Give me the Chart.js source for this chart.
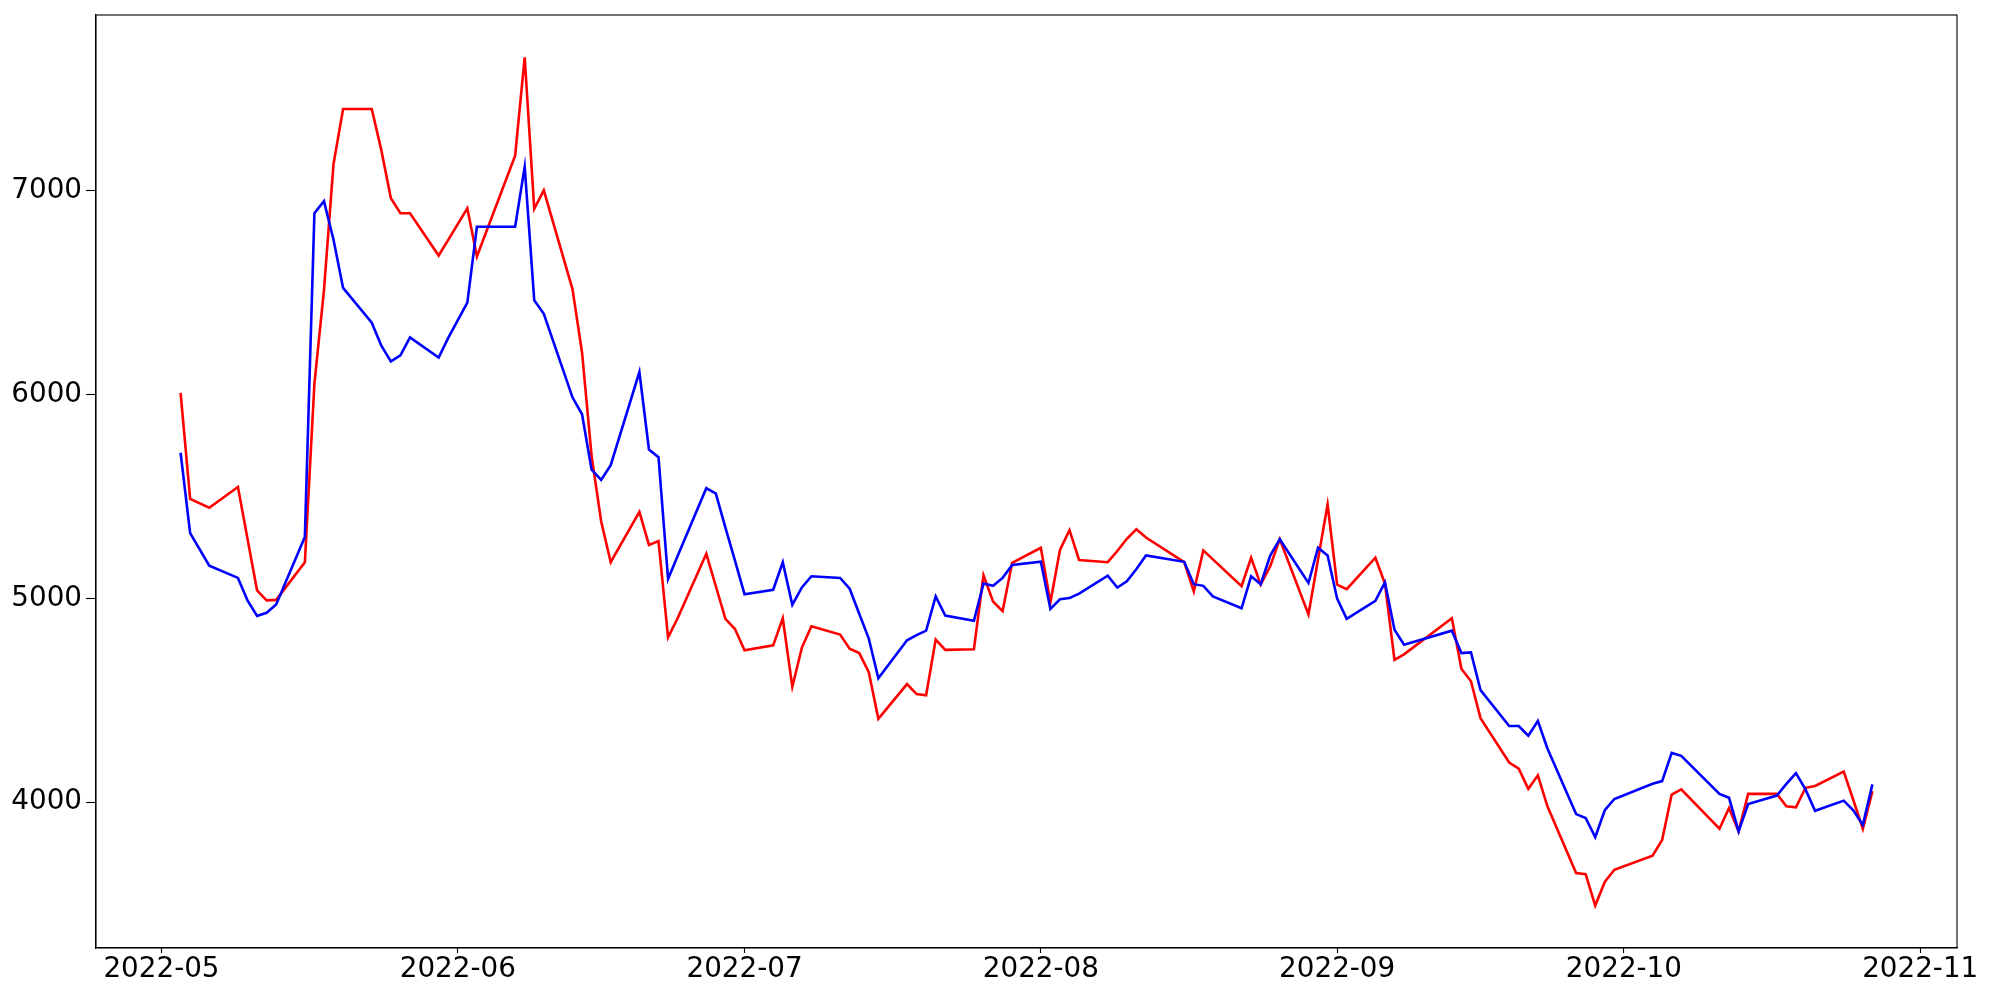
<!DOCTYPE html>
<html>
<head>
<meta charset="utf-8">
<title>Price chart</title>
<script src="https://cdn.jsdelivr.net/npm/chart.js@4.4.0/dist/chart.umd.min.js"></script>
<style>
  html, body { margin: 0; padding: 0; background: #fff; }
  #wrap { width: 2000px; height: 1000px; }
</style>
</head>
<body>
<div id="wrap"><canvas id="chart" width="2000" height="1000"></canvas></div>
<script>
"use strict";

// trading days (KRX calendar, holidays skipped)
var dates = [
    '2022-05-03','2022-05-04','2022-05-06','2022-05-09','2022-05-10','2022-05-11','2022-05-12','2022-05-13',
    '2022-05-16','2022-05-17','2022-05-18','2022-05-19','2022-05-20','2022-05-23','2022-05-24','2022-05-25',
    '2022-05-26','2022-05-27','2022-05-30','2022-05-31',
    '2022-06-02','2022-06-03','2022-06-07','2022-06-08','2022-06-09','2022-06-10','2022-06-13','2022-06-14',
    '2022-06-15','2022-06-16','2022-06-17','2022-06-20','2022-06-21','2022-06-22','2022-06-23','2022-06-24',
    '2022-06-27','2022-06-28','2022-06-29','2022-06-30',
    '2022-07-01','2022-07-04','2022-07-05','2022-07-06','2022-07-07','2022-07-08','2022-07-11','2022-07-12',
    '2022-07-13','2022-07-14','2022-07-15','2022-07-18','2022-07-19','2022-07-20','2022-07-21','2022-07-22',
    '2022-07-25','2022-07-26','2022-07-27','2022-07-28','2022-07-29',
    '2022-08-01','2022-08-02','2022-08-03','2022-08-04','2022-08-05','2022-08-08','2022-08-09','2022-08-10',
    '2022-08-11','2022-08-12','2022-08-16','2022-08-17','2022-08-18','2022-08-19','2022-08-22','2022-08-23',
    '2022-08-24','2022-08-25','2022-08-26','2022-08-29','2022-08-30','2022-08-31',
    '2022-09-01','2022-09-02','2022-09-05','2022-09-06','2022-09-07','2022-09-08','2022-09-13','2022-09-14',
    '2022-09-15','2022-09-16','2022-09-19','2022-09-20','2022-09-21','2022-09-22','2022-09-23','2022-09-26',
    '2022-09-27','2022-09-28','2022-09-29','2022-09-30',
    '2022-10-04','2022-10-05','2022-10-06','2022-10-07','2022-10-11','2022-10-12','2022-10-13','2022-10-14',
    '2022-10-17','2022-10-18','2022-10-19','2022-10-20','2022-10-21','2022-10-24','2022-10-25','2022-10-26',
    '2022-10-27'
];

var redSeries = [
    6009, 5489, 5445, 5547, 5293, 5040, 4991, 4993, 5178, 6053, 6513, 7132, 7402, 7402, 7200, 6964, 6890, 6890, 6683, 6760,
    6915, 6678, 7173, 7655, 6912, 7003, 6518, 6207, 5700, 5379, 5178, 5425, 5263, 5282, 4809, 4903, 5219, 5060, 4900, 4850,
    4746, 4770, 4903, 4567, 4759, 4864, 4823, 4754, 4732, 4638, 4410, 4580, 4531, 4525, 4798, 4748, 4751, 5114, 4985, 4938, 5175,
    5249, 4980, 5238, 5335, 5189, 5178, 5233, 5293, 5340, 5299, 5178, 5035, 5236, 5192, 5060, 5200, 5068, 5158, 5291, 4922, 5191, 5461,
    5068, 5046, 5200, 5073, 4699, 4726, 4903, 4655, 4594, 4413, 4195, 4165, 4066, 4132, 3980, 3653, 3647, 3493, 3609, 3669,
    3738, 3815, 4038, 4063, 3870, 3972, 3857, 4041, 4041, 3980, 3975, 4071, 4080, 4151, 4011, 3870, 4055
];

var blueSeries = [
    5715, 5321, 5161, 5101, 4991, 4914, 4930, 4971, 5302, 6890, 6950, 6760, 6524, 6353, 6240, 6163, 6193, 6281, 6182, 6279,
    6452, 6824, 6824, 7118, 6463, 6397, 5987, 5904, 5632, 5582, 5654, 6111, 5731, 5693, 5095, 5208, 5541, 5514, 5348, 5186,
    5021, 5043, 5178, 4969, 5054, 5109, 5101, 5048, 4925, 4803, 4608, 4795, 4820, 4842, 5010, 4916, 4891, 5073, 5062, 5101, 5164,
    5180, 4949, 4996, 5002, 5024, 5112, 5054, 5084, 5145, 5211, 5180, 5070, 5062, 5010, 4952, 5109, 5070, 5211, 5291, 5076, 5249, 5211,
    4999, 4900, 4988, 5079, 4847, 4773, 4842, 4732, 4735, 4550, 4374, 4374, 4327, 4399, 4264, 3942, 3923, 3829, 3961, 4016,
    4091, 4104, 4242, 4228, 4041, 4022, 3857, 3991, 4033, 4090, 4143, 4063, 3958, 4008, 3961, 3889, 4088
];

var monthTicks = ['2022-05-01', '2022-06-01', '2022-07-01', '2022-08-01', '2022-09-01', '2022-10-01', '2022-11-01'];
var yTicks = [4000, 5000, 6000, 7000];

var FONT = {family: "'DejaVu Sans', sans-serif", size: 27.8};

function toPoints(values) {
    return values.map(function (v, i) {
        return {x: Date.parse(dates[i]), y: v};
    });
}

// matplotlib-style 5% margins around the data
var xs = dates.map(function (d) { return Date.parse(d); });
var xMin = Math.min.apply(null, xs), xMax = Math.max.apply(null, xs);
var allY = redSeries.concat(blueSeries);
var yMin = Math.min.apply(null, allY), yMax = Math.max.apply(null, allY);
var xPad = (xMax - xMin) * 0.05, yPad = (yMax - yMin) * 0.05;

var frame = {
    id: 'frame',
    afterDraw: function (chart) {
        var a = chart.chartArea, ctx = chart.ctx;
        ctx.save();
        ctx.strokeStyle = '#000';
        ctx.lineWidth = 1.1;
        ctx.strokeRect(a.left, a.top, a.right - a.left, a.bottom - a.top);
        ctx.restore();
    }
};

new Chart(document.getElementById('chart').getContext('2d'), {
    type: 'line',
    data: {
        datasets: [{
            data: toPoints(redSeries),
            borderColor: '#ff0000',
            borderWidth: 2.6,
            pointRadius: 0,
            tension: 0,
            fill: false,
            order: 1
        }, {
            data: toPoints(blueSeries),
            borderColor: '#0000ff',
            borderWidth: 2.6,
            pointRadius: 0,
            tension: 0,
            fill: false,
            order: 0
        }]
    },
    options: {
        responsive: false,
        animation: false,
        devicePixelRatio: 1,
        layout: {padding: {left: 0, right: 43, top: 15, bottom: 0}},
        plugins: {legend: {display: false}, tooltip: {enabled: false}},
        scales: {
            x: {
                type: 'linear',
                min: xMin - xPad,
                max: xMax + xPad,
                afterBuildTicks: function (scale) {
                    scale.ticks = monthTicks.map(function (d) { return {value: Date.parse(d)}; });
                },
                afterFit: function (scale) {
                    scale.height = 52;
                    scale.paddingLeft = 0;
                    scale.paddingRight = 0;
                },
                ticks: {
                    color: '#000',
                    font: FONT,
                    padding: 0,
                    maxRotation: 0,
                    autoSkip: false,
                    callback: function (v) {
                        var d = new Date(v);
                        var m = d.getUTCMonth() + 1;
                        return d.getUTCFullYear() + '-' + (m < 10 ? '0' + m : m);
                    }
                },
                grid: {drawOnChartArea: false, tickLength: 5, tickColor: '#000', tickWidth: 1.1},
                border: {color: '#000', width: 1.1}
            },
            y: {
                min: yMin - yPad,
                max: yMax + yPad,
                afterBuildTicks: function (scale) {
                    scale.ticks = yTicks.map(function (v) { return {value: v}; });
                },
                afterFit: function (scale) {
                    scale.width = 96;
                    scale.paddingTop = 0;
                    scale.paddingBottom = 0;
                },
                ticks: {
                    color: '#000',
                    font: FONT,
                    padding: 4,
                    callback: function (v) { return String(v); }
                },
                grid: {drawOnChartArea: false, tickLength: 10, tickColor: '#000', tickWidth: 1.1},
                border: {color: '#000', width: 1.1}
            }
        }
    },
    plugins: [frame]
});
</script>
</body>
</html>
